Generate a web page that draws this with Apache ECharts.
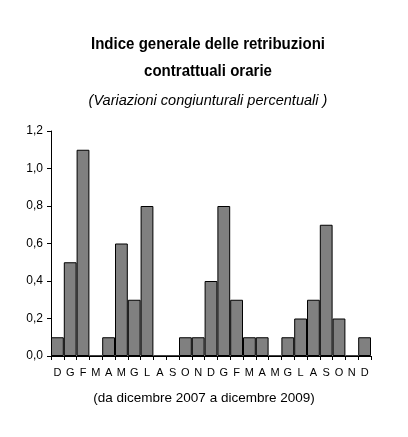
<!DOCTYPE html>
<html>
<head>
<meta charset="utf-8">
<script src="https://cdn.jsdelivr.net/npm/echarts@6/dist/echarts.min.js"></script>
<style>
  html, body { margin: 0; padding: 0; background: #fff; }
  #chart { width: 408px; height: 437px; }
</style>
</head>
<body>
<div id="chart"></div>
<script>
// months Dec 2007 - Dec 2009
const months = ['D','G','F','M','A','M','G','L','A','S','O','N','D','G','F','M','A','M','G','L','A','S','O','N','D'];
const values = [0.1,0.5,1.1,0,0.1,0.6,0.3,0.8,0,0,0.1,0.1,0.4,0.8,0.3,0.1,0.1,0,0.1,0.2,0.3,0.7,0.2,0,0.1];

const chart = echarts.init(document.getElementById('chart'));
const titleFont = '"Liberation Sans Narrow", "Liberation Sans", Arial, sans-serif';

// narrow-looking title lines, centred around x = 208
function titleLine(text, y, font, sx) {
    return {
        type: 'text', x: 208, y: y, scaleX: sx,
        style: { text: text, font: font, fill: '#000', align: 'center', verticalAlign: 'middle' }
    };
}

chart.setOption({
    backgroundColor: '#fff',
    animation: false,
    graphic: [
        titleLine('Indice generale delle retribuzioni', 45, 'bold 16px ' + titleFont, 0.94),
        titleLine('contrattuali orarie', 72, 'bold 16px ' + titleFont, 0.94),
        titleLine('(Variazioni congiunturali percentuali )', 101, 'italic 15px ' + titleFont, 0.97),
        { type: 'text', left: 'center', top: 391, style: { text: '(da dicembre 2007 a dicembre 2009)', font: '13.5px "Liberation Sans", Arial, sans-serif', fill: '#000' } }
    ],
    grid: { left: 51, right: 37, top: 131, bottom: 81 },
    xAxis: {
        type: 'category',
        data: months,
        axisLine: { lineStyle: { color: '#000', width: 1 } },
        axisTick: { show: true, length: 4, lineStyle: { color: '#000' } },
        axisLabel: { color: '#000', fontSize: 11, fontFamily: 'Liberation Sans, Arial, sans-serif', margin: 11, interval: 0 }
    },
    yAxis: {
        type: 'value',
        min: 0,
        max: 1.2,
        interval: 0.2,
        splitLine: { show: false },
        axisLine: { show: true, lineStyle: { color: '#000', width: 1 } },
        axisTick: { show: true, length: 4, lineStyle: { color: '#000' } },
        axisLabel: {
            color: '#000', fontSize: 12, fontFamily: 'Liberation Sans, Arial, sans-serif', margin: 8,
            formatter: v => v.toFixed(1).replace('.', ',')
        }
    },
    series: [{
        type: 'bar',
        data: values,
        barCategoryGap: 0,
        itemStyle: { color: '#808080', borderColor: '#000', borderWidth: 1 }
    }]
});
</script>
</body>
</html>
